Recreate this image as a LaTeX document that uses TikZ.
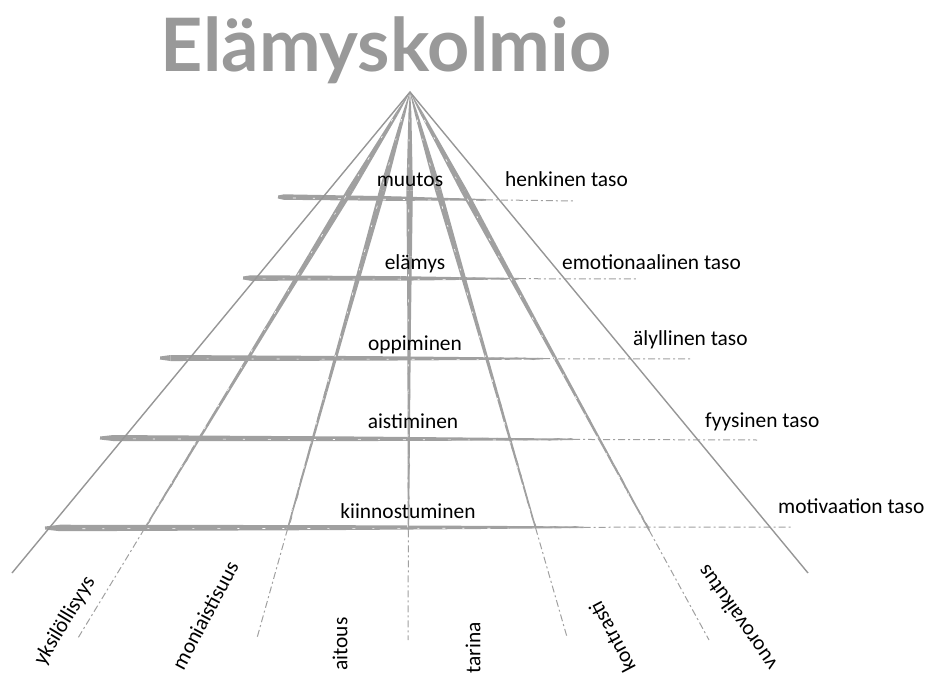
\documentclass[tikz,border=0pt]{standalone}
\usepackage{fontspec}
\setmainfont{Carlito}
\newfontfamily\titlefont{Lato}
\usetikzlibrary{calc,decorations.pathmorphing}
\definecolor{brushgray}{RGB}{160,160,160}
\definecolor{edgegray}{RGB}{150,150,150}
\definecolor{titlegray}{RGB}{153,153,153}
\pgfmathsetseed{7}

% #1 x1, #2 y1, #3 x2, #4 y2, #5 profile ta/wa/tb/wb, #6 start of dashed tail
\newcommand\mybrush[6]{%
  \pgfmathsetmacro\bdx{#3-#1}%
  \pgfmathsetmacro\bdy{#4-#2}%
  \pgfmathsetmacro\bL{veclen(\bdx,\bdy)}%
  \pgfmathsetmacro\bnx{-\bdy/\bL}%
  \pgfmathsetmacro\bny{\bdx/\bL}%
  \foreach \ta/\wa/\tb/\wb in {#5}{%
    \fill[brushgray]
      ({#1+\ta*\bdx+\bnx*\wa/2},{#2+\ta*\bdy+\bny*\wa/2}) --
      ({#1+\tb*\bdx+\bnx*\wb/2},{#2+\tb*\bdy+\bny*\wb/2}) --
      ({#1+\tb*\bdx-\bnx*\wb/2},{#2+\tb*\bdy-\bny*\wb/2}) --
      ({#1+\ta*\bdx-\bnx*\wa/2},{#2+\ta*\bdy-\bny*\wa/2}) -- cycle;
  }%
  \draw[brushgray, line width=0.8bp, decorate, decoration={random steps, segment length=4bp, amplitude=1bp}]
    ({#1+0.04*\bdx},{#2+0.04*\bdy}) -- ({#1+#6*\bdx},{#2+#6*\bdy});
  \draw[white, line width=0.6bp, dash pattern=on 3bp off 17bp on 2bp off 23bp]
    ({#1+0.05*\bdx+\bnx*0.8},{#2+0.05*\bdy+\bny*0.8}) -- ({#1+#6*\bdx+\bnx*0.8},{#2+#6*\bdy+\bny*0.8});
  \draw[brushgray, line width=1bp, dash pattern=on 7bp off 3bp on 2bp off 3bp]
    ({#1+#6*\bdx},{#2+#6*\bdy}) -- (#3,#4);
}

\begin{document}
\begin{tikzpicture}[x=1bp,y=-1bp,
  lbl/.style={font=\fontsize{21.5}{24}\selectfont, inner sep=0pt, text=black},
  edge/.style={draw=edgegray, line width=1.4bp}]
\useasboundingbox (0,0) rectangle (928,675);

% title
\node[font=\titlefont\bfseries\fontsize{74}{78}\selectfont, text=titlegray,
      anchor=base, inner sep=0pt] (title) at (386,72) {Elämyskolmio};

% horizontal brush lines
\mybrush{278}{197}{575}{201}{0/3/0.02/5.5, 0.02/5.5/0.4/4.5, 0.4/4.5/0.55/2.8, 0.55/2.8/0.7/1.5}{0.7}
\mybrush{243}{278}{637}{279}{0/3/0.02/5.5, 0.02/5.5/0.4/4.5, 0.4/4.5/0.55/2.8, 0.55/2.8/0.7/1.5}{0.7}
\mybrush{160}{358}{692}{359}{0/3/0.02/6, 0.02/6/0.4/4.5, 0.4/4.5/0.6/2.8, 0.6/2.8/0.72/1.5}{0.72}
\mybrush{100}{438}{757}{440}{0/3/0.02/6, 0.02/6/0.4/4.5, 0.4/4.5/0.6/2.8, 0.6/2.8/0.72/1.5}{0.72}
\mybrush{45}{528}{793}{527}{0/3/0.02/6.5, 0.02/6.5/0.38/5, 0.38/5/0.6/3, 0.6/3/0.72/1.5}{0.72}

% radial brush lines
\foreach \ex/\ey in {78/638, 257/638, 408/640, 567/637, 709/640}{
  \mybrush{410}{92}{\ex}{\ey}{0/0.4/0.04/3, 0.04/3/0.18/6.5, 0.18/6.5/0.3/5, 0.3/5/0.42/3.6, 0.42/3.6/0.55/2.8, 0.55/2.8/0.68/2.1, 0.68/2.1/0.8/1.5}{0.8}
}

% outer edges
\coordinate (A) at (410,92);
\coordinate (L) at (12,573);
\coordinate (R) at (808,573);
\draw[edge] (L) -- (A) -- (R);

% level labels
\node[lbl, anchor=base] (l1) at (410,186) {muutos};
\node[lbl, anchor=base] (l2) at (415,269) {elämys};
\node[lbl, anchor=base] (l3) at (415,350) {oppiminen};
\node[lbl, anchor=base] (l4) at (413,428) {aistiminen};
\node[lbl, anchor=base] (l5) at (408,518) {kiinnostuminen};

\node[lbl, anchor=base west] (t1) at (505,186) {henkinen taso};
\node[lbl, anchor=base west] (t2) at (562,269) {emotionaalinen taso};
\node[lbl, anchor=base west] (t3) at (633,345) {älyllinen taso};
\node[lbl, anchor=base west] (t4) at (705,427) {fyysinen taso};
\node[lbl, anchor=base west] (t5) at (778,513) {motivaation taso};

% bottom labels
\node[lbl, rotate=59] (b1) at (65,621) {yksilöllisyys};
\node[lbl, rotate=62] (b2) at (205,615) {moniaistisuus};
\node[lbl, rotate=90] (b3) at (340,644) {aitous};
\node[lbl, rotate=90] (b4) at (473,648) {tarina};
\node[lbl, rotate=118] (b5) at (612,637) {kontrasti};
\node[lbl, rotate=125] (b6) at (737,618) {vuorovaikutus};
\end{tikzpicture}
\end{document}
